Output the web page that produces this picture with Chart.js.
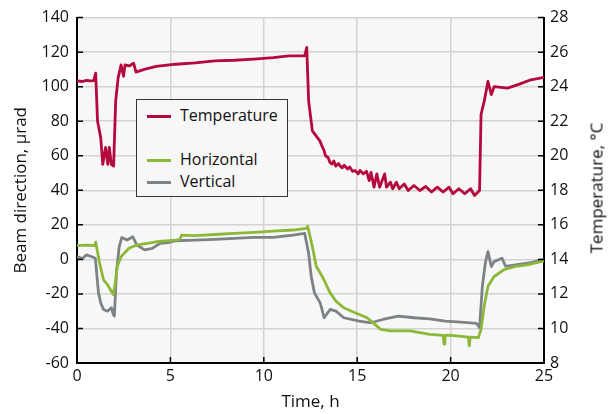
<!DOCTYPE html>
<html>
<head>
<meta charset="utf-8">
<script src="https://cdn.jsdelivr.net/npm/chart.js@4.4.1/dist/chart.umd.min.js"></script>
<style>
    html, body { margin: 0; padding: 0; background: #fff; }
    #wrap { position: relative; width: 612px; height: 414px; font-family: "Open Sans", sans-serif; color: #111; }
    #legend {
        position: absolute; left: 136px; top: 99px; width: 150px; height: 96px;
        border: 1.5px solid #333; background: #f7f7f7; box-sizing: content-box;
    }
    .item { position: absolute; left: 10px; font-size: 16px; line-height: 20px; }
    .item span { display: inline-block; width: 24px; height: 3px; vertical-align: middle; margin-right: 9px; }
    #rightTitle {
        position: absolute; left: 596px; top: 188px; font-size: 17px; white-space: nowrap;
        transform: translate(-50%, -50%) rotate(-90deg);
    }
</style>
</head>
<body>
<div id="wrap">
    <canvas id="chart" width="612" height="414"></canvas>
    <div id="legend">
        <div class="item" style="top:5px"><span style="background:#b5083c"></span>Temperature</div>
        <div class="item" style="top:49px"><span style="background:#8cb83a"></span>Horizontal</div>
        <div class="item" style="top:71px"><span style="background:#7c8286"></span>Vertical</div>
    </div>
    <div id="rightTitle">Temperature, °C</div>
</div>
<script>
// temperature, °C (right axis)
const tempTime = [0, 0.3, 0.5, 0.7, 0.9, 1.0, 1.1, 1.27, 1.38, 1.53, 1.65, 1.73, 1.84, 1.96, 2.07, 2.2, 2.36,
    2.49, 2.57, 2.8, 3.03, 3.16, 3.6, 4.24, 5.29, 6.33, 7.38, 8.42, 9.47, 10.5, 11.35, 12.19, 12.3, 12.4, 12.6,
    13.0, 13.1, 13.23, 13.3, 13.44, 13.55, 13.65, 13.75, 13.85, 14.0, 14.07, 14.2, 14.3, 14.49, 14.6, 14.75,
    14.9, 15.05, 15.15, 15.32, 15.5, 15.64, 15.74, 15.9, 16.05, 16.2, 16.47, 16.57, 16.78, 16.9, 17.1, 17.25,
    17.52, 17.73, 18.04, 18.35, 18.67, 18.98, 19.29, 19.6, 19.92, 20.13, 20.44, 20.76, 21.07, 21.28, 21.55,
    21.63, 21.8, 22.0, 22.18, 22.33, 23.05, 23.68, 24.3, 25];
const tempValues = [24.34, 24.3, 24.36, 24.33, 24.35, 24.78, 22.0, 21.05, 19.5, 20.48, 19.5, 20.48, 19.5, 19.4,
    23.16, 24.5, 25.26, 24.6, 25.26, 25.2, 25.36, 24.84, 25.0, 25.17, 25.3, 25.38, 25.5, 25.53, 25.6, 25.68,
    25.78, 25.78, 26.28, 23.16, 21.44, 20.86, 20.6, 20.29, 20.0, 19.9, 19.6, 19.52, 19.7, 19.4, 19.55, 19.43,
    19.3, 19.45, 19.23, 19.35, 19.1, 19.14, 18.95, 19.15, 18.95, 19.1, 18.56, 19.04, 18.18, 18.95, 18.18,
    18.95, 18.18, 18.47, 18.09, 18.47, 18.09, 18.37, 17.99, 18.28, 17.99, 18.22, 17.9, 18.18, 17.9, 18.18,
    17.8, 18.09, 17.8, 18.09, 17.7, 17.99, 22.39, 23.16, 24.3, 23.54, 24.0, 23.92, 24.15, 24.4, 24.54];

// beam direction, µrad (left axis)
const horizTime = [0, 0.5, 0.95, 1.0, 1.21, 1.42, 1.63, 1.84, 1.94, 2.05, 2.15, 2.36, 2.78, 3.2, 4.24, 5.29, 5.5,
    5.6, 6.33, 7.38, 8.42, 9.47, 10.5, 11.56, 12.29, 12.35, 12.6, 12.81, 13.13, 13.55, 13.86, 14.28, 14.7,
    15.11, 15.53, 15.95, 16.26, 16.78, 17.83, 18.88, 19.6, 19.65, 19.7, 19.92, 20.95, 21.0, 21.05, 21.49,
    21.63, 21.8, 22.0, 22.33, 22.85, 23.47, 24.1, 25];
const horizValues = [8, 8.2, 8, 10, -2.2, -11.8, -14.6, -18.5, -20.4, -13.7, -4.1, 1.6, 6.4, 8.3, 10.2, 11.2, 11.5,
    14, 13.7, 14.4, 15, 15.6, 16.4, 17, 17.9, 19.2, 7.4, -4.1, -9.9, -19.4, -24.2, -28, -30, -31.9, -33.8, -37.6,
    -40.5, -41.4, -41.4, -43.4, -44, -49, -44, -43.9, -45, -50, -45, -45.3, -40.5, -27, -15.6, -9.9, -6, -4.1,
    -3.2, -0.8];

const vertTime = [0, 0.3, 0.5, 0.8, 0.98, 1.15, 1.27, 1.42, 1.63, 1.84, 1.94, 2.0, 2.11, 2.26, 2.4, 2.68, 2.99,
    3.2, 3.62, 4.03, 4.45, 4.87, 5.29, 6.33, 7.38, 8.42, 9.47, 10.5, 11.56, 12.19, 12.4, 12.54, 12.71, 13.02,
    13.23, 13.55, 13.86, 14.28, 15.11, 15.74, 16.37, 17.2, 18.04, 18.88, 19.71, 20.55, 21.38, 21.55, 21.7,
    21.86, 22.0, 22.18, 22.33, 22.75, 22.95, 23.47, 24.3, 25];
const vertValues = [1.6, 0.5, 2.6, 1.5, 0.7, -19.4, -25.2, -29, -30, -28, -31.9, -32.8, -8, 7.4, 12.7, 11.2, 13.1,
    8.3, 5.5, 6.4, 9.3, 9.7, 10.8, 11.2, 11.6, 12.2, 12.7, 12.7, 14.1, 15, 3.5, -9.9, -19.4, -25.2, -33.8, -29,
    -30, -33.8, -35.7, -36.7, -34.8, -32.8, -33.8, -34.4, -35.7, -36.3, -37, -39.5, -15.6, -2.1, 4.5, -4.1,
    -1.3, 0.7, -4.1, -3.2, -1.9, 0];

const toPoints = (xs, ys) => xs.map((x, i) => ({ x, y: ys[i] }));

const tickFont = { family: 'Open Sans', size: 16 };
const titleFont = { family: 'Open Sans', size: 17 };
const textColor = '#111';
const gridColor = '#d3d3d3';

// plot background and inward tick marks
const plotExtras = {
    id: 'plotExtras',
    beforeDraw(chart) {
        const { ctx, chartArea: a } = chart;
        ctx.save();
        ctx.fillStyle = '#f7f7f7';
        ctx.fillRect(a.left, a.top, a.right - a.left, a.bottom - a.top);
        ctx.restore();
    },
    afterDatasetsDraw(chart) {
        const { ctx, chartArea: a, scales } = chart;
        ctx.save();
        ctx.strokeStyle = '#000';
        ctx.lineWidth = 1.5;
        ctx.beginPath();
        scales.x.ticks.forEach((t, i) => {
            const px = scales.x.getPixelForTick(i);
            ctx.moveTo(px, a.bottom); ctx.lineTo(px, a.bottom - 6);
        });
        scales.y.ticks.forEach((t, i) => {
            const py = scales.y.getPixelForTick(i);
            ctx.moveTo(a.left, py); ctx.lineTo(a.left + 6, py);
        });
        scales.y2.ticks.forEach((t, i) => {
            const py = scales.y2.getPixelForTick(i);
            ctx.moveTo(a.right, py); ctx.lineTo(a.right - 6, py);
        });
        ctx.stroke();
        ctx.restore();
    }
};

new Chart(document.getElementById('chart'), {
    type: 'line',
    data: {
        datasets: [
            { label: 'Temperature', data: toPoints(tempTime, tempValues), yAxisID: 'y2', borderColor: '#b5083c' },
            { label: 'Horizontal', data: toPoints(horizTime, horizValues), yAxisID: 'y', borderColor: '#8cb83a' },
            { label: 'Vertical', data: toPoints(vertTime, vertValues), yAxisID: 'y', borderColor: '#7c8286' }
        ]
    },
    options: {
        responsive: false,
        animation: false,
        layout: { padding: { top: 17, bottom: 0, left: 0, right: 0 } },
        elements: {
            point: { radius: 0 },
            line: { borderWidth: 2.8, tension: 0, borderJoinStyle: 'round' }
        },
        plugins: { legend: { display: false }, tooltip: { enabled: false } },
        scales: {
            x: {
                type: 'linear', min: 0, max: 25,
                ticks: { stepSize: 5, font: tickFont, color: textColor, padding: 4, maxRotation: 0 },
                grid: { color: gridColor, lineWidth: 1.5, drawTicks: false },
                border: { color: '#000', width: 2 },
                title: { display: true, text: 'Time, h', font: titleFont, color: textColor, padding: { top: 0, bottom: 2 } },
                afterFit: s => { s.height = 51; }
            },
            y: {
                position: 'left', min: -60, max: 140,
                ticks: { stepSize: 20, font: tickFont, color: textColor, padding: 8 },
                grid: { color: gridColor, lineWidth: 1.5, drawTicks: false },
                border: { color: '#000', width: 2 },
                title: { display: true, text: 'Beam direction, µrad', font: titleFont, color: textColor, padding: { top: 11, bottom: 0 } },
                afterFit: s => { s.width = 77; }
            },
            y2: {
                position: 'right', min: 8, max: 28,
                ticks: { stepSize: 2, font: tickFont, color: textColor, padding: 6 },
                grid: { drawOnChartArea: false, drawTicks: false },
                border: { color: '#000', width: 2 },
                afterFit: s => { s.width = 68; }
            }
        }
    },
    plugins: [plotExtras]
});
</script>
</body>
</html>
